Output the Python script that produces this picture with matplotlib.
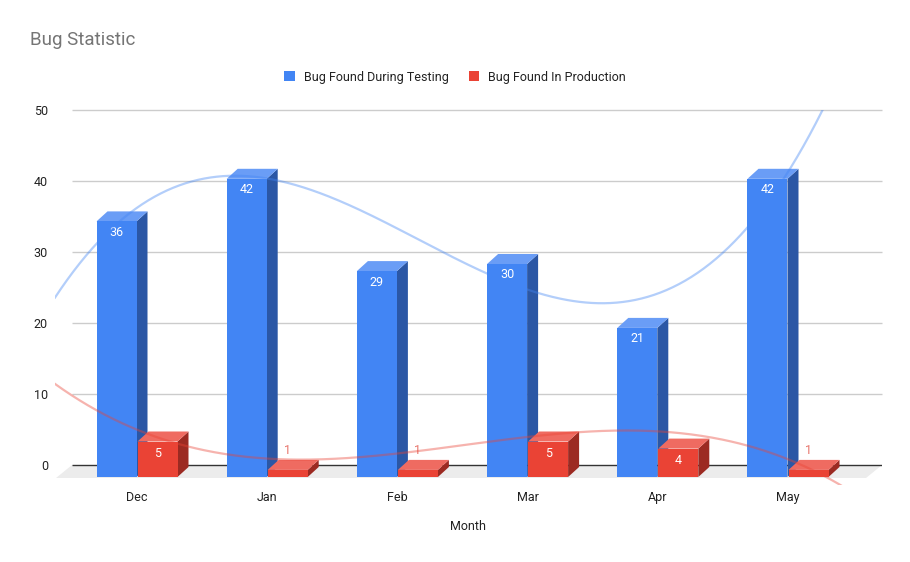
import matplotlib
matplotlib.use("Agg")
import matplotlib.pyplot as plt
from matplotlib.patches import Polygon, Patch
import numpy as np

plt.rcParams['font.family'] = ['Roboto', 'DejaVu Sans']

# chart data
months = ['Dec', 'Jan', 'Feb', 'Mar', 'Apr', 'May']
testing = [36, 42, 29, 30, 21, 42]
production = [5, 1, 1, 5, 4, 1]
y_ticks = [0, 10, 20, 30, 40, 50]

# colours (front, side, top)
BLUE = ('#4285F4', '#2B57A5', '#6A9DF6')
RED = ('#EA4335', '#9C2A22', '#EF6B61')

# pixel scale of the axes (px per data unit)
PX_X = 130.2
PX_Y = 7.1

fig = plt.figure(figsize=(9.1, 5.62), dpi=100)
ax = fig.add_axes([55 / 910, (562 - 485) / 562, (882 - 55) / 910, (485 - 110) / 562])
ax.set_xlim(-82 / PX_X, 745 / PX_X)
ax.set_ylim(-20 / PX_Y, 50)
for s in ax.spines.values():
    s.set_visible(False)

# back plane extent and floor
back_l, back_r = -65 / PX_X, 745 / PX_X
floor_dx, floor_dy = 16 / PX_X, 13 / PX_Y
floor = Polygon([(back_l, 0), (back_r, 0), (back_r - floor_dx, -floor_dy), (back_l - floor_dx, -floor_dy)],
                closed=True, facecolor='#ececec', edgecolor='none', zorder=1)
ax.add_patch(floor)
ax.hlines(y_ticks[1:], back_l, back_r, color='#cccccc', lw=1, zorder=0.5, clip_on=False)
ax.hlines([0], back_l, back_r, color='#333333', lw=1, zorder=1.5)


def draw_bar(x0, x1, val, cols, zo):
    dx, dy = 11 / PX_X, 10 / PX_Y
    yb = -12 / PX_Y
    yt = yb + val
    front = Polygon([(x0, yb), (x1, yb), (x1, yt), (x0, yt)], closed=True,
                    facecolor=cols[0], edgecolor='none', zorder=zo)
    side = Polygon([(x1, yb), (x1 + dx, yb + dy), (x1 + dx, yt + dy), (x1, yt)], closed=True,
                   facecolor=cols[1], edgecolor='none', zorder=zo)
    top = Polygon([(x0, yt), (x1, yt), (x1 + dx, yt + dy), (x0 + dx, yt + dy)], closed=True,
                  facecolor=cols[2], edgecolor='none', zorder=zo)
    for p in (side, top, front):
        ax.add_patch(p)
    return yt


w = 40 / PX_X
gap = 0.5 / PX_X
zo = 2
for i in range(len(months)):
    # testing bar, left of centre
    x0 = i - gap - w
    yt = draw_bar(x0, x0 + w, testing[i], BLUE, zo)
    ax.text(x0 + w / 2, yt - 11 / PX_Y, str(testing[i]), color='white', fontsize=9,
            ha='center', va='center', zorder=zo + 0.5)
    zo += 1
    # production bar, right of centre
    x0 = i + gap
    yt = draw_bar(x0, x0 + w, production[i], RED, zo)
    if production[i] * PX_Y > 20:
        ax.text(x0 + w / 2, yt - 12 / PX_Y, str(production[i]), color='white', fontsize=9,
                ha='center', va='center', zorder=zo + 0.5)
    else:
        # too small to hold the label: put it above the bar
        ax.text(x0 + w / 2, yt + 19 / PX_Y, str(production[i]), color='#E8766D', fontsize=9,
                ha='center', va='center', zorder=zo + 0.5)
    zo += 1

# polynomial trendlines
xi = np.arange(len(months))
xs = np.linspace(-82 / PX_X, 745 / PX_X, 400)
for vals, c in ((testing, BLUE[0]), (production, RED[0])):
    coef = np.polyfit(xi, vals, 3)
    ax.plot(xs, np.polyval(coef, xs), color=c, alpha=0.4, lw=1.6, zorder=50)

ax.set_yticks(y_ticks)
ax.set_xticks(xi)
ax.set_xticklabels(months)
ax.tick_params(axis='y', length=0, pad=5, labelsize=9, labelcolor='#222222')
ax.tick_params(axis='x', length=0, pad=4, labelsize=9, labelcolor='#222222')

fig.text(468 / 910, 1 - 527 / 562, 'Month', ha='center', va='center', fontsize=9, color='#222222')
fig.text(30 / 910, 1 - 40 / 562, 'Bug Statistic', ha='left', va='center', fontsize=13.5, color='#757575')

handles = [Patch(facecolor=BLUE[0], edgecolor='none'), Patch(facecolor=RED[0], edgecolor='none')]
fig.legend(handles, ['Bug Found During Testing', 'Bug Found In Production'], loc='center',
           bbox_to_anchor=(455 / 910, 1 - 77 / 562), ncol=2, frameon=False, fontsize=9,
           handlelength=0.85, handleheight=0.85, handletextpad=0.7, columnspacing=1.6,
           labelcolor='#222222')

fig.savefig('out.png', dpi=100)
